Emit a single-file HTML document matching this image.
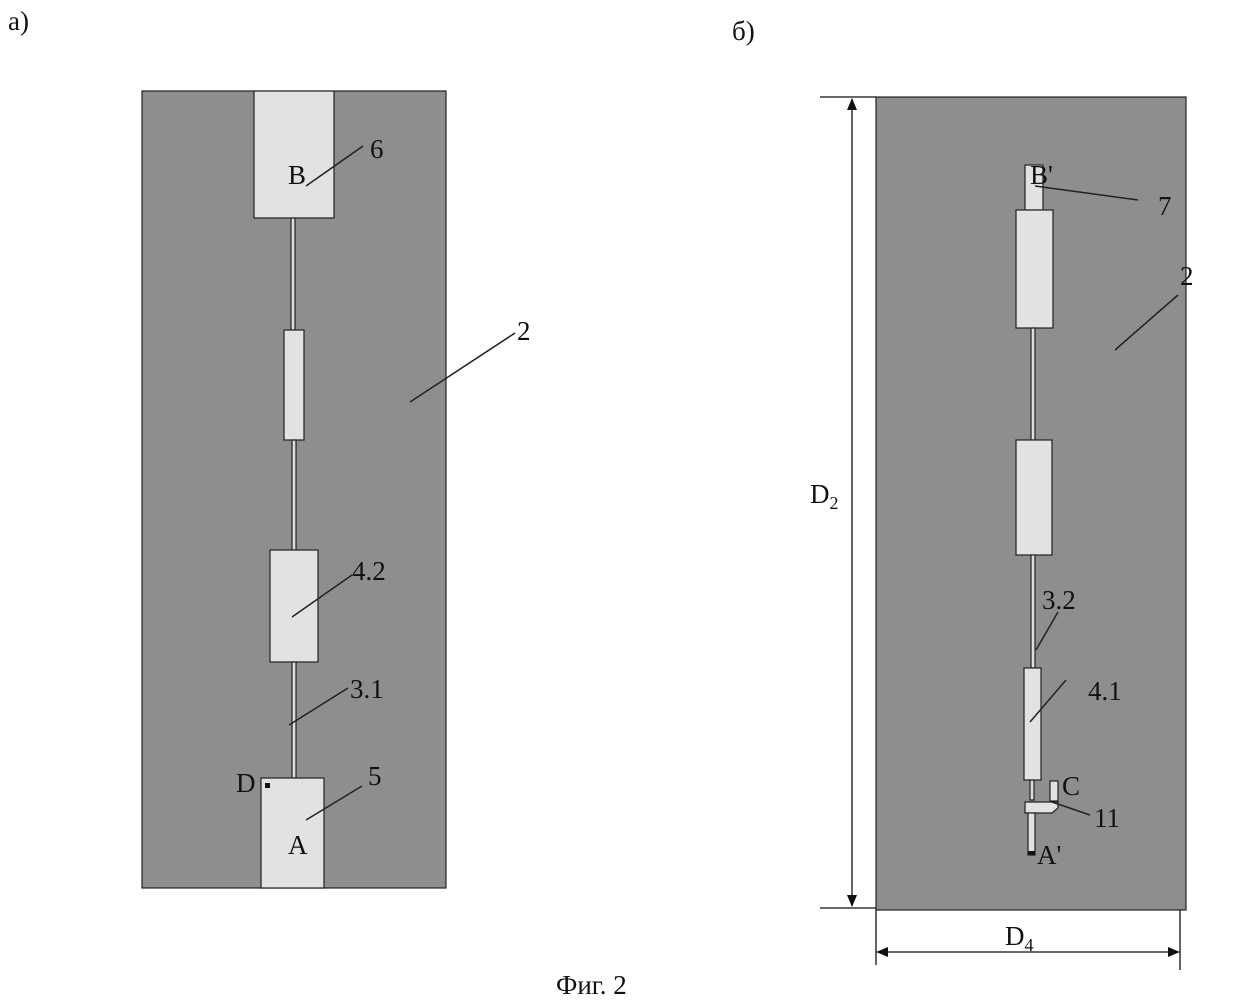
<!DOCTYPE html>
<html><head><style>body{margin:0;background:#fff}svg{display:block}text{font-family:"Liberation Serif",serif;fill:#111}</style></head>
<body>
<svg width="1248" height="1004" viewBox="0 0 1248 1004">
<defs><marker id="ar" markerWidth="12" markerHeight="10" refX="11" refY="5" orient="auto-start-reverse" markerUnits="userSpaceOnUse"><path d="M0,0 L12,5 L0,10 z" fill="#111"/></marker></defs>
<g stroke="#222" stroke-width="1.2">
<rect x="142" y="91" width="304" height="797" fill="#8e8e8e"/>
<rect x="254" y="91" width="80" height="127" fill="#e2e2e2"/>
<rect x="291" y="218" width="4" height="112" fill="#ddd"/>
<rect x="284" y="330" width="20" height="110" fill="#e2e2e2"/>
<rect x="292" y="440" width="4" height="110" fill="#ddd"/>
<rect x="270" y="550" width="48" height="112" fill="#e2e2e2"/>
<rect x="292" y="662" width="4" height="116" fill="#ddd"/>
<rect x="261" y="778" width="63" height="110" fill="#e2e2e2"/>
</g>
<rect x="265" y="783" width="5" height="5" fill="#111"/>
<g stroke="#222" stroke-width="1.2">
<rect x="876" y="97" width="310" height="813" fill="#8e8e8e"/>
<rect x="1025" y="165" width="18" height="45" fill="#e2e2e2"/>
<rect x="1016" y="210" width="37" height="118" fill="#e2e2e2"/>
<rect x="1031" y="328" width="4" height="112" fill="#ddd"/>
<rect x="1016" y="440" width="36" height="115" fill="#e2e2e2"/>
<rect x="1031" y="555" width="4" height="113" fill="#ddd"/>
<rect x="1024" y="668" width="17" height="112" fill="#e2e2e2"/>
<rect x="1030" y="780" width="4" height="20" fill="#ddd"/>
<rect x="1050" y="781" width="8" height="20" fill="#e2e2e2"/>
<path d="M1025,802 H1058 V808 L1052,813 H1025 Z" fill="#e2e2e2"/>
<rect x="1028" y="813" width="7" height="42" fill="#e2e2e2"/>
</g>
<rect x="1028" y="851" width="7" height="4" fill="#111"/>
<g stroke="#222" stroke-width="1.5">
<line x1="306" y1="186" x2="363" y2="146"/>
<line x1="410" y1="402" x2="515" y2="333"/>
<line x1="292" y1="617" x2="352" y2="575"/>
<line x1="289" y1="725" x2="348" y2="688"/>
<line x1="306" y1="820" x2="362" y2="786"/>
<line x1="1035" y1="186" x2="1138" y2="200"/>
<line x1="1115" y1="350" x2="1178" y2="295"/>
<line x1="1036" y1="650" x2="1058" y2="612"/>
<line x1="1030" y1="722" x2="1066" y2="680"/>
<line x1="1052" y1="802" x2="1090" y2="815"/>
</g>
<g font-size="27">
<text x="8" y="30">a)</text>
<text x="288" y="184">B</text><text x="370" y="158">6</text>
<text x="517" y="340">2</text>
<text x="352" y="580">4.2</text>
<text x="350" y="698">3.1</text>
<text x="236" y="792">D</text><text x="368" y="785">5</text>
<text x="288" y="854">A</text>
<text x="732" y="40">б)</text>
<text x="1158" y="215">7</text>
<text x="1180" y="285">2</text>
<text x="1042" y="609">3.2</text>
<text x="1088" y="700">4.1</text>
<text x="1062" y="795">C</text>
<text x="1094" y="827">11</text>
<text x="1037" y="864">A'</text>
<text x="1030" y="184">B'</text>
<text x="810" y="503">D<tspan font-size="18" dy="6">2</tspan></text>
<text x="1005" y="945">D<tspan font-size="18" dy="6">4</tspan></text>
<text x="556" y="994">Фиг. 2</text>
</g>
<g stroke="#111" stroke-width="1.3" fill="none">
<line x1="820" y1="97" x2="876" y2="97"/>
<line x1="820" y1="908" x2="876" y2="908"/>
<line x1="852" y1="99" x2="852" y2="906" marker-start="url(#ar)" marker-end="url(#ar)"/>
<line x1="876" y1="910" x2="876" y2="965"/>
<line x1="1180" y1="910" x2="1180" y2="970"/>
<line x1="877" y1="952" x2="1179" y2="952" marker-start="url(#ar)" marker-end="url(#ar)"/>
</g>
</svg>
</body></html>
